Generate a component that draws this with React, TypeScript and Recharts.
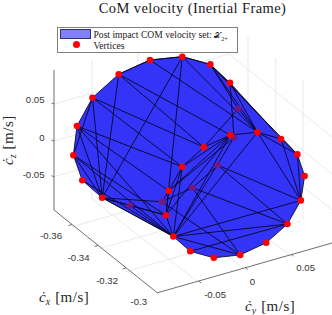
import React from 'react';
import { ScatterChart, Scatter, XAxis, YAxis, Legend } from 'recharts';

// The plot is a 3D view, so all values are read in the flat view plane of the picture
const vertexX = [118.7, 150, 182.3, 210.3, 230, 92.5, 77, 73.4, 82.3, 102.2, 173.4, 190.3, 213.8, 240.2, 266.2, 287.4, 300.8, 304.6, 297.4, 281, 257.4, 230.4, 203.8, 182.2, 168.7, 166];
const vertexY = [74.2, 60, 56.7, 64.4, 82.8, 97.7, 126, 155.2, 180.3, 197.8, 236.5, 251.3, 257.8, 254.9, 242.8, 224, 200.4, 176, 154.4, 139, 132.2, 135, 147.2, 166.8, 190.8, 215.2];
const hiddenX = [238.2, 234, 217.8, 192.5, 162, 129.8];
const hiddenY = [108.8, 137.5, 165.2, 187.8, 201.8, 205.5];

const hull = [5, 0, 1, 2, 3, 4, 19, 18, 17, 16, 15, 14, 13, 12, 11, 10, 9, 8, 7, 6, 5];

// Polytope edges, as pairs of vertices; 100+ is an index into the hidden ones
const edges = [
  [0, 9], [0, 22], [0, 21], [0, 1], [1, 20], [1, 2], [2, 20], [2, 25], [2, 9], [2, 3],
  [5, 22], [5, 23], [5, 9], [5, 7], [6, 23], [6, 24], [6, 9], [6, 10], [7, 10], [7, 25], [7, 9], [8, 10], [9, 10], [9, 25],
  [3, 20], [3, 18], [3, 18], [4, 20], [3, 100], [4, 101], [100, 22], [100, 20], [20, 21], [20, 19], [20, 18], [21, 22], [21, 101],
  [21, 10], [21, 24], [21, 25], [20, 10], [20, 16], [18, 16], [19, 16], [102, 16], [102, 15], [102, 103], [103, 104],
  [104, 9], [104, 24], [103, 13], [103, 15], [104, 13], [10, 16], [10, 15], [11, 15], [10, 13],
  [105, 10], [105, 25], [105, 9], [23, 24], [23, 25], [23, 10], [24, 25], [25, 10], [22, 23], [21, 23], [101, 10], [101, 24],
];

const gridLines = [
  [54, 104, 229, 54], [229, 54, 332, 137], [54, 141, 229, 91], [229, 91, 332, 174], [54, 176.7, 229, 126.7], [229, 126.7, 332, 210],
  [92, 60, 92, 199], [138, 46, 138, 187], [184, 33, 184, 174], [248, 37, 248, 177], [275.7, 58, 275.7, 199], [303, 80, 303, 220],
  [72, 226.7, 247, 177], [98, 249, 273, 199], [126, 271.7, 301, 221],
  [199, 282.7, 92, 199], [245.7, 270, 138, 187], [291.7, 256.7, 184, 174],
];
const axisLines = [
  [54, 70, 54, 210], [54, 210, 157.3, 292.8], [157.3, 292.8, 332, 243],
  [54, 104, 51.6, 103], [54, 141, 51.6, 140], [54, 176.7, 51.6, 175.7],
  [72, 224.5, 68.5, 225.5], [98, 245.5, 94.5, 246.5], [126, 268, 122.5, 269],
  [199, 281, 201, 283], [245.7, 267.7, 247.7, 269.7], [291.7, 254.4, 293.7, 256.4],
];

const zTickLabels = ['0.05', '0', '-0.05'];
const zTickX = [44.5, 44.5, 44.5];
const zTickY = [103, 140.5, 177.5];
const xTickLabels = ['-0.36', '-0.34', '-0.32', '-0.3'];
const xTickX = [62, 89.5, 118, 147];
const xTickY = [238.5, 261, 283.5, 305];
const yTickLabels = ['-0.05', '0', '0.05'];
const yTickX = [226, 255, 315];
const yTickY = [297.5, 284.5, 271];

const segment = (from: number[]) => [{ x: from[0], y: from[1] }, { x: from[2], y: from[3] }];
const point = (i: number) => (i >= 100 ? { x: hiddenX[i - 100], y: hiddenY[i - 100] } : { x: vertexX[i], y: vertexY[i] });

const noDot = () => null;

const dot = (color: string) => (props: any) => <circle cx={props.cx} cy={props.cy} r={3.3} fill={color} />;

const tickText = (props: any) => (
  <text x={props.cx} y={props.cy} textAnchor="end" fontFamily="Liberation Sans" fontSize={9.6} fill="#333">
    {props.payload.text}
  </text>
);

const MathLabel = ({ x, y, sub, rotate }: { x: number; y: number; sub: string; rotate?: boolean }) => (
  <text
    x={x}
    y={y}
    transform={rotate ? `rotate(-90 ${x} ${y})` : undefined}
    fontFamily="Liberation Serif"
    fontSize={15}
    fill="#262626"
  >
    <tspan fontStyle="italic">{'c\u0307'}</tspan>
    <tspan fontStyle="italic" fontSize={10} dy={2.5}>{sub}</tspan>
    <tspan dy={-2.5} dx={5} letterSpacing={0.5}>[m/s]</tspan>
  </text>
);

const LegendBox = () => (
  <div
    style={{
      boxSizing: 'border-box',
      width: 181,
      height: 26,
      background: '#fff',
      border: '1px solid #7f7f7f',
      position: 'relative',
      fontFamily: 'Liberation Serif',
      fontSize: 9.6,
      lineHeight: '11px',
      color: '#222',
      whiteSpace: 'nowrap',
    }}
  >
    <div style={{ position: 'absolute', left: 2, top: 1, width: 31, height: 10, boxSizing: 'border-box', background: '#8080ff', border: '1px solid #33336b' }} />
    <div style={{ position: 'absolute', left: 14.5, top: 13.5, width: 7, height: 7, borderRadius: '50%', background: '#ff0000' }} />
    <div style={{ position: 'absolute', left: 35.5, top: 1 }}>
      Post impact COM velocity set: <span style={{ fontSize: 8 }}>{'\u{1D4B3}'}</span>
      <sub style={{ fontSize: 6, lineHeight: 0 }}>2+</sub>
    </div>
    <div style={{ position: 'absolute', left: 35.5, top: 12.5 }}>Vertices</div>
  </div>
);

export default function App() {
  return (
    <div style={{ position: 'absolute', left: 0, top: 0, width: 332, height: 315 }}>
      <ScatterChart width={332} height={315} margin={{ top: 0, right: 0, bottom: 0, left: 0 }}>
        <XAxis type="number" dataKey="x" domain={[0, 332]} hide />
        <YAxis type="number" dataKey="y" domain={[0, 315]} reversed hide />
        <Legend
          verticalAlign="middle"
          layout="horizontal"
          content={LegendBox}
          wrapperStyle={{ left: 57, top: 26.5, width: 181, height: 26 }}
        />

        {gridLines.map((g, i) => (
          <Scatter key={`grid-${i}`} data={segment(g)} shape={noDot} line={{ stroke: '#e3e3e3', strokeWidth: 0.8 }} isAnimationActive={false} />
        ))}
        {axisLines.map((g, i) => (
          <Scatter key={`axis-${i}`} data={segment(g)} shape={noDot} line={{ stroke: '#4a4a4a', strokeWidth: 0.8 }} isAnimationActive={false} />
        ))}

        <Scatter
          data={hull.map(point)}
          shape={noDot}
          line={{ fill: '#3434f8', stroke: '#0a0a3a', strokeWidth: 0.9 }}
          isAnimationActive={false}
        />
        {edges.map((e, i) => (
          <Scatter key={`edge-${i}`} data={[point(e[0]), point(e[1])]} shape={noDot} line={{ stroke: '#05052a', strokeWidth: 0.9 }} isAnimationActive={false} />
        ))}

        <Scatter data={hiddenX.map((x, i) => ({ x, y: hiddenY[i] }))} shape={dot('#74187f')} isAnimationActive={false} />
        <Scatter data={vertexX.map((x, i) => ({ x, y: vertexY[i] }))} shape={dot('#ff0000')} isAnimationActive={false} />

        <Scatter data={zTickLabels.map((text, i) => ({ x: zTickX[i], y: zTickY[i], text }))} shape={tickText} isAnimationActive={false} />
        <Scatter data={xTickLabels.map((text, i) => ({ x: xTickX[i], y: xTickY[i], text }))} shape={tickText} isAnimationActive={false} />
        <Scatter data={yTickLabels.map((text, i) => ({ x: yTickX[i], y: yTickY[i], text }))} shape={tickText} isAnimationActive={false} />

        <Scatter
          data={[{ x: 192.5, y: 13 }]}
          shape={(props: any) => (
            <text x={props.cx} y={props.cy} textAnchor="middle" fontFamily="Liberation Serif" fontSize={14.5} letterSpacing={0.4} fill="#1a1a1a">
              CoM velocity (Inertial Frame)
            </text>
          )}
          isAnimationActive={false}
        />
        <Scatter data={[{ x: 39, y: 302 }]} shape={(p: any) => <MathLabel x={p.cx} y={p.cy} sub="x" />} isAnimationActive={false} />
        <Scatter data={[{ x: 245, y: 311 }]} shape={(p: any) => <MathLabel x={p.cx} y={p.cy} sub="y" />} isAnimationActive={false} />
        <Scatter data={[{ x: 13, y: 165 }]} shape={(p: any) => <MathLabel x={p.cx} y={p.cy} sub="z" rotate />} isAnimationActive={false} />
      </ScatterChart>
    </div>
  );
}
